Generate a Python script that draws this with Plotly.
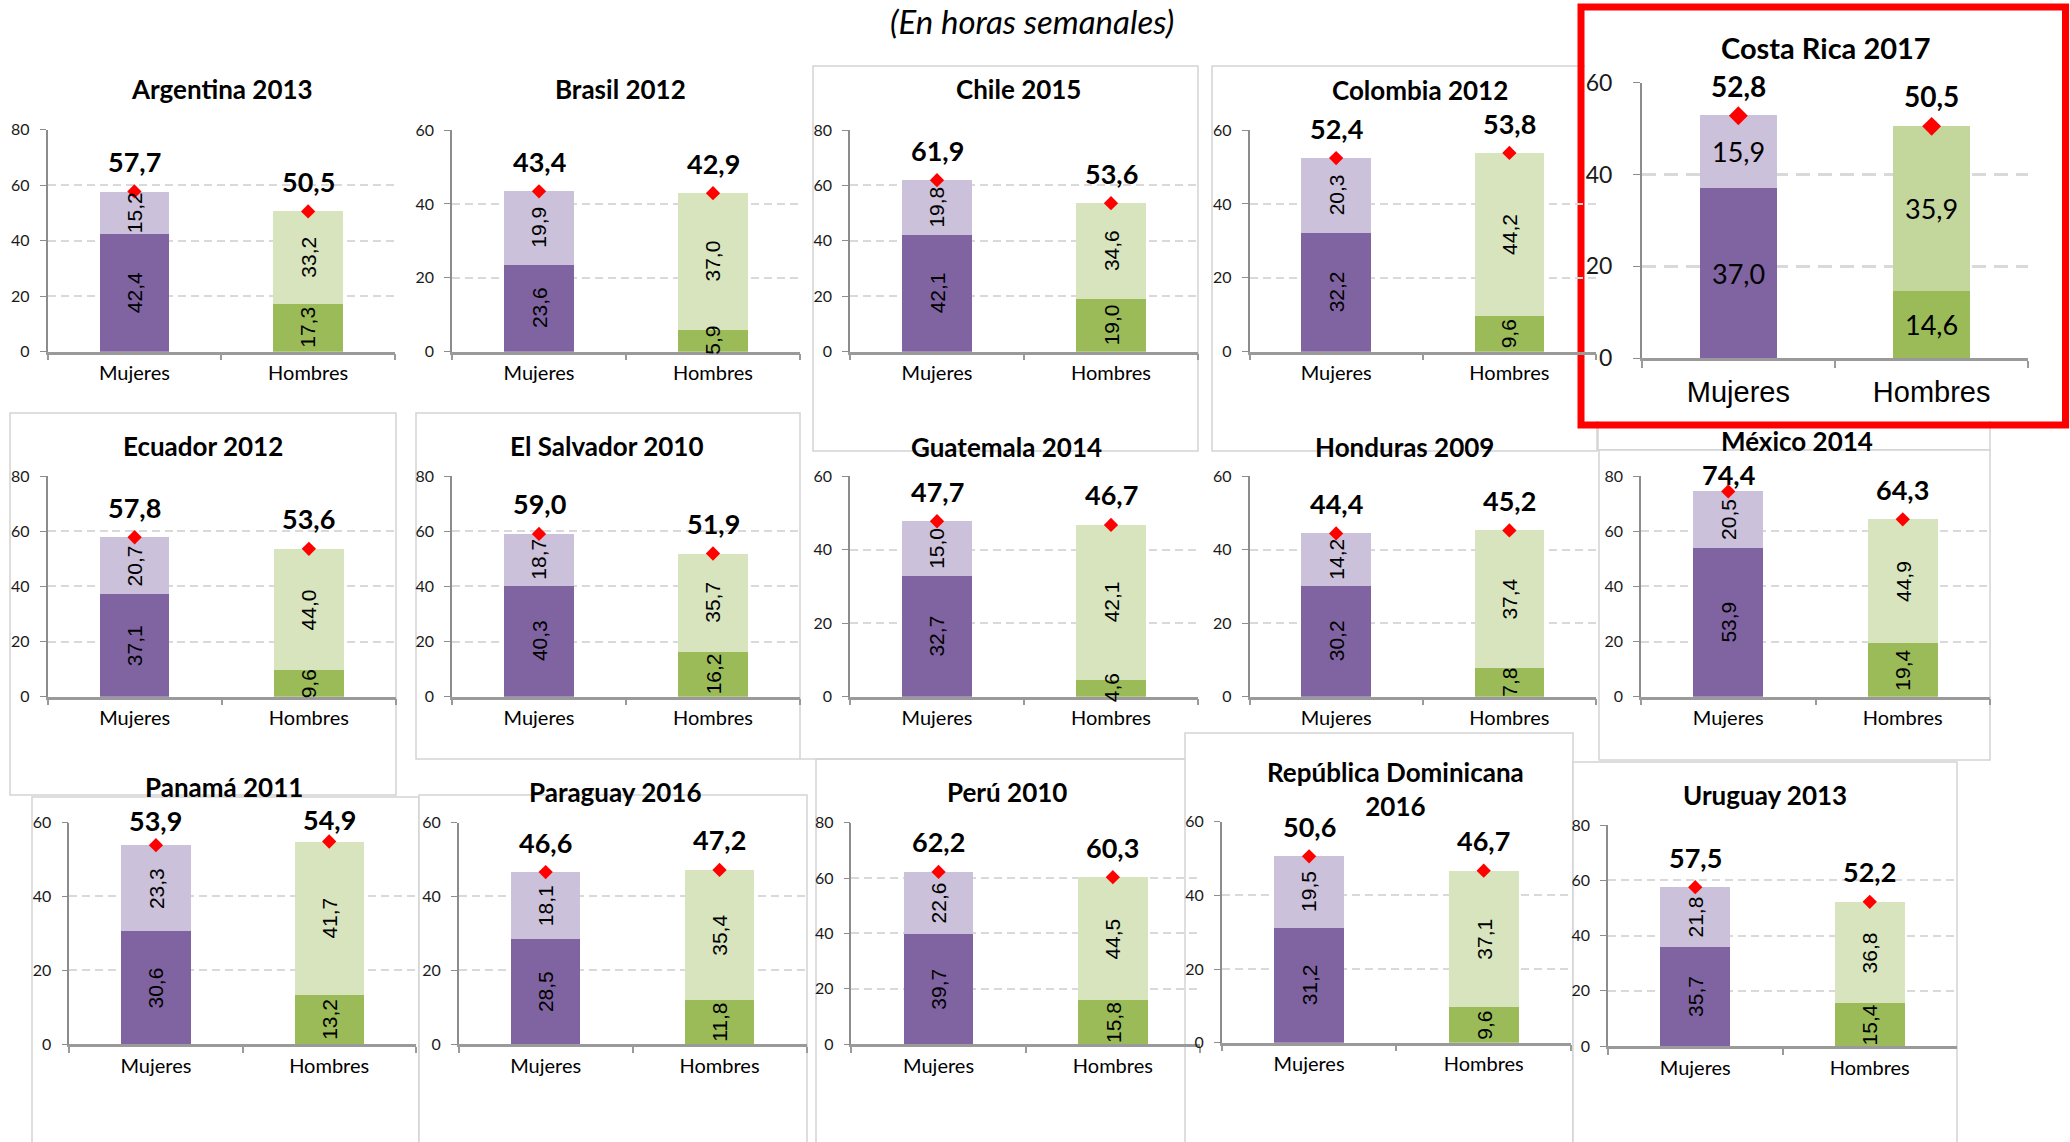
import plotly.graph_objects as go

# ---------------- data ----------------
categories = ["Mujeres", "Hombres"]
countries = ["Argentina 2013", "Brasil 2012", "Chile 2015", "Colombia 2012", "Costa Rica 2017",
             "Ecuador 2012", "El Salvador 2010", "Guatemala 2014", "Honduras 2009", "México 2014",
             "Panamá 2011", "Paraguay 2016", "Perú 2010", "República Dominicana<br>2016", "Uruguay 2013"]
# dark (bottom) segment and light (top) segment, hours per week
mujeres_no_remunerado = [42.4, 23.6, 42.1, 32.2, 37.0, 37.1, 40.3, 32.7, 30.2, 53.9, 30.6, 28.5, 39.7, 31.2, 35.7]
mujeres_remunerado    = [15.2, 19.9, 19.8, 20.3, 15.9, 20.7, 18.7, 15.0, 14.2, 20.5, 23.3, 18.1, 22.6, 19.5, 21.8]
mujeres_total         = [57.7, 43.4, 61.9, 52.4, 52.8, 57.8, 59.0, 47.7, 44.4, 74.4, 53.9, 46.6, 62.2, 50.6, 57.5]
hombres_no_remunerado = [17.3, 5.9, 19.0, 9.6, 14.6, 9.6, 16.2, 4.6, 7.8, 19.4, 13.2, 11.8, 15.8, 9.6, 15.4]
hombres_remunerado    = [33.2, 37.0, 34.6, 44.2, 35.9, 44.0, 35.7, 42.1, 37.4, 44.9, 41.7, 35.4, 44.5, 37.1, 36.8]
hombres_total         = [50.5, 42.9, 53.6, 53.8, 50.5, 53.6, 51.9, 46.7, 45.2, 64.3, 54.9, 47.2, 60.3, 46.7, 52.2]
axis_max              = [80, 60, 80, 60, 60, 80, 80, 60, 60, 80, 60, 60, 80, 60, 80]
subtitle = "(En horas semanales)"

# ---------------- layout (pixel boxes) ----------------
W, H = 2070, 1142
# plot area: x0, x1, y_top, y_bottom ; title centre x, y
panel_boxes = [
    (47.5, 395, 129.5, 351.7, 222, 89),
    (452, 800, 130, 351.7, 620, 89),
    (850, 1198, 130, 351.7, 1018, 89),
    (1249.5, 1596, 130, 351.7, 1420, 90),
    (1641.7, 2028.3, 82.7, 358.3, 1825.5, 48),
    (47.5, 396, 476, 696.7, 203, 446),
    (452, 800, 476, 696.7, 607, 446),
    (850, 1198, 476, 696.7, 1006, 447),
    (1249.5, 1596, 476, 696.7, 1404, 447),
    (1641, 1990, 476, 696.7, 1797, 441),
    (69.3, 415.8, 822.7, 1044, 224, 787),
    (458.7, 806.5, 822.7, 1044, 615, 792),
    (851.4, 1200, 822.7, 1044, 1007, 792),
    (1221.8, 1571, 821.7, 1042.7, 1395, 789),
    (1608, 1957, 825, 1046, 1765, 795),
]
HIGHLIGHT = 4

C_M_DARK, C_M_LIGHT = "#8064A2", "#CCC1DA"
C_H_DARK, C_H_LIGHT = "#9BBB59", "#D7E4BD"
C_H_LIGHT_CR = "#C3D69B"
CAL = "Lato, 'Open Sans', sans-serif"
ARIAL = "'Liberation Sans', Arial, sans-serif"


def fx(x):
    return x / W


def fy(y):
    return 1 - y / H


def fmt(v):
    return f"{v:.1f}".replace(".", ",")


fig = go.Figure()
annotations = []
shapes = []

# background frames of the pasted charts (white fill, thin grey border)
frame_rects = [
    (1598, 20, 1990, 450), (1599, 450, 1990, 760),
    (813, 66, 1198, 451), (1212, 66, 1597, 451),
    (10, 413, 396, 795), (416, 413, 800, 759),
    (32, 797, 419, 1160), (419, 795, 807, 1160), (816, 759, 1198, 1160),
    (1185, 733, 1573, 1160), (1573, 762, 1957, 1160),
]
for (a, b, c, d) in frame_rects:
    shapes.append(dict(type="rect", xref="paper", yref="paper", x0=fx(a), x1=fx(c), y0=fy(d), y1=fy(b),
                       fillcolor="white", line=dict(color="#D4D4D4", width=1.5), layer="below"))
shapes.append(dict(type="line", xref="paper", yref="paper", x0=fx(800), x1=fx(1185), y0=fy(759), y1=fy(759),
                   line=dict(color="#D4D4D4", width=1.5), layer="below"))
# Costa Rica chart white area and red highlight box
shapes.append(dict(type="rect", xref="paper", yref="paper", x0=fx(1585), x1=fx(2062), y0=fy(421), y1=fy(11),
                   fillcolor="white", line=dict(width=0), layer="below"))
shapes.append(dict(type="rect", xref="paper", yref="paper", x0=fx(1581), x1=fx(2065.5), y0=fy(425), y1=fy(7),
                   fillcolor="rgba(0,0,0,0)", line=dict(color="#FF0000", width=7), layer="below"))

for i in range(len(countries)):
    n = "" if i == 0 else str(i + 1)
    xa, ya = "x" + n, "y" + n
    x0, x1, yt, yb, tx, ty = panel_boxes[i]
    big = (i == HIGHLIGHT)
    dark = [mujeres_no_remunerado[i], hombres_no_remunerado[i]]
    light = [mujeres_remunerado[i], hombres_remunerado[i]]
    tot = [mujeres_total[i], hombres_total[i]]
    lg = C_H_LIGHT_CR if big else C_H_LIGHT

    fig.add_trace(go.Bar(x=categories, y=dark, width=0.4, xaxis=xa, yaxis=ya,
                         marker=dict(color=[C_M_DARK, C_H_DARK], line=dict(width=0)),
                         showlegend=False, hoverinfo="skip"))
    fig.add_trace(go.Bar(x=categories, y=light, width=0.4, xaxis=xa, yaxis=ya,
                         marker=dict(color=[C_M_LIGHT, lg], line=dict(width=0)),
                         showlegend=False, hoverinfo="skip"))
    fig.add_trace(go.Scatter(x=categories, y=tot, mode="markers", xaxis=xa, yaxis=ya, cliponaxis=False,
                             marker=dict(symbol="diamond", color="#FF0000", size=14.5 if big else 11,
                                         line=dict(width=0)),
                             showlegend=False, hoverinfo="skip"))

    axis_col = "#9A9A9A"
    fig.update_layout(**{
        "xaxis" + n: dict(domain=[fx(x0), fx(x1)], anchor=ya, type="category", range=[-0.5, 1.5],
                          automargin=False,
                          showline=True, linecolor=axis_col, linewidth=2.5, ticks="outside",
                          tickson="boundaries", ticklen=7 if big else 6, tickcolor=axis_col, tickwidth=1.5,
                          showgrid=False, zeroline=False, fixedrange=True,
                          tickfont=dict(family=ARIAL if big else CAL, size=29 if big else 20, color="#000000"),
                          ticklabelstandoff=6 if big else 2),
        "yaxis" + n: dict(domain=[fy(yb), fy(yt)], anchor=xa, range=[0, axis_max[i]], dtick=20, tick0=0,
                          automargin=False,
                          showline=True, linecolor="#8C8C8C", linewidth=1.5, ticks="outside",
                          ticklen=7 if big else 6, tickcolor="#8C8C8C",
                          showgrid=True, gridcolor="#D9D9D9", gridwidth=3 if big else 2,
                          griddash="14px,8px" if big else "8px,5px", zeroline=False, fixedrange=True,
                          tickfont=dict(family=CAL, size=23 if big else 16, color="#1A1A1A"),
                          ticklabelstandoff=16 if big else 7),
    })

    # title
    annotations.append(dict(xref="paper", yref="paper", x=fx(tx), y=fy(ty), text="<b>" + countries[i] + "</b>",
                             showarrow=False, xanchor="center", yanchor="middle",
                             font=dict(family=CAL, size=29 if big else 26, color="#000000")))
    px_per_unit = (yb - yt) / axis_max[i]
    for j in range(2):
        # segment labels
        for val, mid in ((dark[j], dark[j] / 2), (light[j], dark[j] + light[j] / 2)):
            annotations.append(dict(xref=xa, yref=ya, x=j, y=mid, text=fmt(val), showarrow=False,
                                    textangle=0 if big else -90, xanchor="center", yanchor="middle",
                                    font=dict(family=CAL if big else ARIAL, size=27 if big else 21,
                                              color="#000000")))
        # totals above the diamond (kept just below the panel title when space is short)
        diamond_px = yb - tot[j] * px_per_unit
        label_px = max(diamond_px - 30, ty + 33)
        annotations.append(dict(xref=xa, yref=ya, x=j, y=tot[j], yshift=diamond_px - label_px,
                                text="<b>" + fmt(tot[j]) + "</b>",
                                showarrow=False, xanchor="center", yanchor="middle",
                                font=dict(family=CAL, size=28 if big else 27, color="#000000")))

annotations.append(dict(xref="paper", yref="paper", x=fx(1032), y=fy(21), text="<i>" + subtitle + "</i>",
                        showarrow=False, xanchor="center", yanchor="middle",
                        font=dict(family=CAL, size=33, color="#000000")))

fig.update_layout(template="none", width=W, height=H, autosize=False, margin=dict(l=0, r=0, t=0, b=0, pad=0),
                  paper_bgcolor="white", plot_bgcolor="rgba(0,0,0,0)", barmode="stack",
                  annotations=annotations, shapes=shapes, showlegend=False)

fig.write_html("out.html", config={"displayModeBar": False})
